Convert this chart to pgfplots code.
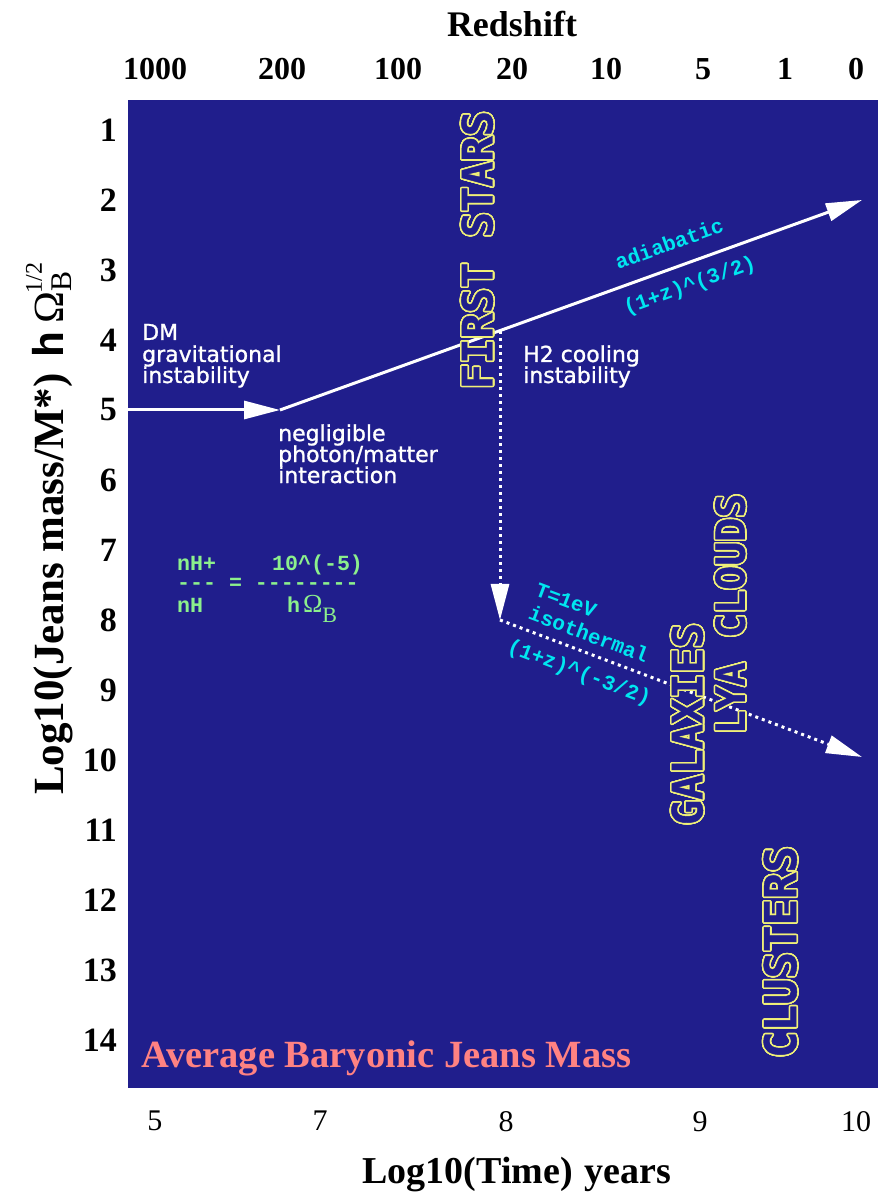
\documentclass[border=0pt]{standalone}
\usepackage{fontspec}
\setmainfont{Liberation Serif}
\newfontfamily\labsans[FakeBold=1.2]{DejaVu Sans}
\newfontfamily\mono[Ligatures=TeXOff]{Liberation Mono}
\newfontfamily\bubble[BoldFeatures={FakeBold=1}]{DejaVu Sans Mono}
\usepackage{pgfplots}
\pgfplotsset{compat=1.18}
\usetikzlibrary{arrows.meta}
\usepackage{contour}
\contourlength{1.6pt}
\contournumber{24}
\definecolor{navy}{RGB}{32,30,140}
\definecolor{cyantext}{RGB}{0,230,240}
\definecolor{greentext}{RGB}{140,240,140}
\definecolor{yell}{RGB}{240,240,120}
\definecolor{salmon}{RGB}{255,130,130}
\newcommand{\fs}[1]{\fontsize{#1}{#1}\selectfont}
\begin{document}
\begin{tikzpicture}
\begin{axis}[
  width=750pt, height=988pt, scale only axis,
  xmin=128, xmax=878, ymin=0.5714, ymax=14.686, y dir=reverse,
  axis background/.style={fill=navy},
  axis line style={draw=none}, major tick length=0pt,
  xtick={155,320,506,700,856}, xticklabels={5,7,8,9,10},
  ytick={1,2,3,4,5,6,7,8,9,10,11,12,13,14},
  yticklabels={1,2,3,4,5,6,7,8,9,10,11,12,13,14},
  xticklabel style={font=\fs{30}, inner sep=0pt}, xticklabel shift=23pt,
  yticklabel style={font=\fs{34}\bfseries, inner sep=0pt}, yticklabel shift=11pt,
  clip=false,
]
% solid arrows
\addplot[white, line width=3pt, -{Triangle[length=36pt,width=18pt]}] coordinates {(128,5) (280,5)};
\addplot[white, line width=3pt, -{Triangle[length=36pt,width=18pt]}] coordinates {(280,5) (862,2.0)};
% dotted arrows
\addplot[white, line width=3pt, dash pattern=on 3pt off 4pt, -{Triangle[length=36pt,width=18pt]}] coordinates {(500,3.87) (500,8.0)};
\addplot[white, line width=3pt, dash pattern=on 3pt off 4pt, -{Triangle[length=36pt,width=18pt]}] coordinates {(500,8.0) (862,9.957)};

% white labels
\node[anchor=base west, text=white, font=\labsans\fs{22}, inner sep=0pt] at (axis cs:142,4.0) {DM};
\node[anchor=base west, text=white, font=\labsans\fs{22}, inner sep=0pt] at (axis cs:142,4.314) {gravitational};
\node[anchor=base west, text=white, font=\labsans\fs{22}, inner sep=0pt] at (axis cs:142,4.614) {instability};
\node[anchor=base west, text=white, font=\labsans\fs{22}, inner sep=0pt] at (axis cs:278,5.443) {negligible};
\node[anchor=base west, text=white, font=\labsans\fs{22}, inner sep=0pt] at (axis cs:278,5.743) {photon/matter};
\node[anchor=base west, text=white, font=\labsans\fs{22}, inner sep=0pt] at (axis cs:278,6.043) {interaction};
\node[anchor=base west, text=white, font=\labsans\fs{22}, inner sep=0pt] at (axis cs:523,4.314) {H2 cooling};
\node[anchor=base west, text=white, font=\labsans\fs{22}, inner sep=0pt] at (axis cs:523,4.614) {instability};

% cyan labels
\node[rotate=19.8, text=cyantext, font=\mono\bfseries\fs{21}, inner sep=0pt] at (axis cs:669,2.62) {adiabatic};
\node[rotate=19.8, text=cyantext, font=\mono\bfseries\fs{21}, inner sep=0pt] at (axis cs:690,3.23) {(1+z)\textasciicircum(3/2)};
\node[rotate=-20.7, text=cyantext, font=\mono\bfseries\fs{21}, inner sep=0pt] at (axis cs:566,7.72) {T=1eV};
\node[rotate=-20.7, text=cyantext, font=\mono\bfseries\fs{21}, inner sep=0pt] at (axis cs:589,8.2) {isothermal};
\node[rotate=-20.7, text=cyantext, font=\mono\bfseries\fs{21}, inner sep=0pt] at (axis cs:579,8.76) {(1+z)\textasciicircum(-3/2)};

% green formula
\node[anchor=base west, text=greentext, font=\mono\bfseries\fs{21.6}, inner sep=0pt] at (axis cs:177,7.286) {nH+};
\node[anchor=base west, text=greentext, font=\mono\bfseries\fs{21.6}, inner sep=0pt] at (axis cs:272,7.286) {10\textasciicircum(-5)};
\node[anchor=base west, text=greentext, font=\mono\bfseries\fs{21.6}, inner sep=0pt] at (axis cs:177,7.571) {--- = --------};
\node[anchor=base west, text=greentext, font=\mono\bfseries\fs{21.6}, inner sep=0pt] at (axis cs:177,7.886) {nH};
\node[anchor=base west, text=greentext, font=\mono\bfseries\fs{21.6}, inner sep=0pt] at (axis cs:287,7.886) {h\hspace{3pt}{\rmfamily\mdseries\fs{26}Ω}{\rmfamily\mdseries\fs{22}\raisebox{-10pt}{B}}};

% outlined yellow words
\node[rotate=90, text=navy, font=\bubble\bfseries\fs{42}, inner sep=0pt] at (axis cs:478,2.714) {\contour{yell}{FIRST STARS}};
\node[rotate=90, text=navy, font=\bubble\bfseries\fs{42}, inner sep=0pt] at (axis cs:688,9.486) {\contour{yell}{GALAXIES}};
\node[rotate=90, text=navy, font=\bubble\bfseries\fs{40}, inner sep=0pt] at (axis cs:731,7.914) {\contour{yell}{LYA CLOUDS}};
\node[rotate=90, text=navy, font=\bubble\bfseries\fs{44}, inner sep=0pt] at (axis cs:781,12.743) {\contour{yell}{CLUSTERS}};

% title inside
\node[anchor=base west, text=salmon, font=\fs{38.5}\bfseries, inner sep=0pt] at (axis cs:141,14.4) {Average Baryonic Jeans Mass};

% axis titles
\node[anchor=base, font=\fs{36}\bfseries, inner sep=0pt] at (axis cs:512,-0.3286) {Redshift};
\node[anchor=base, font=\fs{38}\bfseries, inner sep=0pt] at (axis cs:517,16.043) {Log10(Time)\hspace{12pt}years};
\node[rotate=90, anchor=base west, font=\fs{43}\bfseries, inner sep=0pt] at (axis cs:64,10.5)
  {Log10(Jeans mass/M*)\hspace{16pt}{\mono h}\hspace{8pt}{\mdseries Ω}{\mdseries\fs{30}\raisebox{-8pt}{B}\hspace{-22pt}\raisebox{22pt}{\fs{24}1/2}}};
\end{axis}
\begin{axis}[
  width=750pt, height=988pt, scale only axis,
  xmin=128, xmax=878, ymin=0.5714, ymax=14.686, y dir=reverse,
  axis x line*=top, hide y axis,
  axis line style={draw=none}, major tick length=0pt,
  xtick={155,282,398,512,606,703,785,856},
  xticklabels={1000,200,100,20,10,5,1,0},
  xticklabel style={font=\fs{32}\bfseries, inner sep=0pt}, xticklabel shift=20pt,
]
\end{axis}
\pgfresetboundingbox
\path[use as bounding box] (-128pt,-110pt) rectangle (750pt,1088pt);
\end{tikzpicture}
\end{document}
